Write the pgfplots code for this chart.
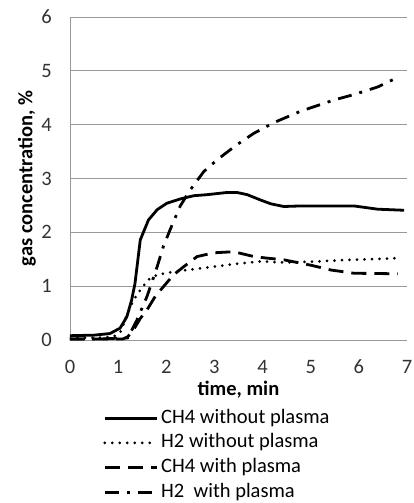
\documentclass[border=0pt]{standalone}
\usepackage{pgfplots}
\pgfplotsset{compat=1.18}
\usepackage{fontspec}
\setmainfont{Carlito}
\begin{document}
\begin{tikzpicture}
\useasboundingbox (-70pt,-163pt) rectangle (343pt,340pt);
\begin{axis}[
  at={(0,0)}, anchor=south west,
  scale only axis, width=337pt, height=323pt,
  xmin=0, xmax=7, ymin=0, ymax=6,
  xtick={0,...,7}, ytick={0,...,6},
  axis lines*=left,
  axis line style={black!40, line width=0.8pt},
  ymajorgrids, grid style={black!40, line width=0.8pt},
  major tick length=0pt,
  font=\fontsize{20.5}{24}\selectfont,
  /pgf/number format/assume math mode=true,
  ticklabel style={text=black!80, font=\fontsize{20.5}{24}\selectfont, inner sep=0pt},
  xticklabel style={anchor=base, yshift=-33.5pt},
  yticklabel style={anchor=east, xshift=-18pt},
  xlabel={\textbf{time, min}},
  ylabel={\textbf{gas concentration, \%}},
  xlabel style={at={(axis description cs:0.5,-0.155)}, anchor=center},
  ylabel style={at={(axis description cs:-0.128,0.5)}, anchor=center},
  legend cell align=left,
  legend style={draw=none, at={(0.098,-0.203)}, anchor=north west,
    inner xsep=0pt, inner ysep=0pt, row sep=0pt,
    nodes={inner ysep=2.35pt, text height=15pt, text depth=5pt, inner xsep=3pt},
    font=\fontsize{20.5}{24}\selectfont},
  legend image code/.code={\draw[#1] (0pt,0pt) -- (52pt,0pt);},
]
\addplot[black, line width=2.8pt, line join=round] coordinates {
(0,0.08)(0.5,0.09)(0.83,0.12)(1.04,0.22)(1.18,0.43)(1.28,0.74)(1.35,1.05)(1.46,1.86)(1.63,2.23)(1.81,2.42)(2.01,2.54)(2.29,2.62)(2.57,2.68)(2.85,2.70)(3.26,2.74)(3.47,2.74)(3.68,2.70)(3.96,2.60)(4.17,2.53)(4.44,2.48)(4.79,2.49)(5.49,2.49)(5.90,2.49)(6.39,2.43)(6.94,2.41)};
\addlegendentry{CH4 without plasma}
\addplot[black, line width=3pt, line cap=round, dash pattern=on 0pt off 7.5pt] coordinates {
(0,0.04)(0.5,0.04)(0.9,0.06)(1.05,0.15)(1.18,0.46)(1.32,0.74)(1.46,0.93)(1.63,1.12)(1.81,1.21)(2.15,1.27)(2.71,1.33)(3.40,1.41)(3.96,1.46)(4.44,1.44)(5.14,1.46)(5.83,1.49)(6.81,1.52)};
\addlegendentry{H2 without plasma}
\addplot[black, line width=2.8pt, dash pattern=on 15pt off 8pt] coordinates {
(0,0.02)(0.5,0.02)(1.1,0.02)(1.2,0.06)(1.32,0.19)(1.46,0.40)(1.60,0.56)(1.77,0.81)(1.94,0.99)(2.15,1.21)(2.36,1.36)(2.64,1.55)(2.99,1.62)(3.40,1.64)(3.82,1.55)(4.10,1.52)(4.44,1.49)(5.0,1.39)(5.42,1.30)(5.90,1.24)(6.81,1.23)};
\addlegendentry{CH4 with plasma}
\addplot[black, line width=2.8pt, dash pattern=on 14pt off 8pt on 3pt off 8pt] coordinates {
(0,0.02)(0.6,0.02)(1.2,0.04)(1.39,0.37)(1.60,0.81)(1.81,1.36)(1.94,1.74)(2.08,2.05)(2.29,2.49)(2.50,2.79)(2.78,3.13)(3.06,3.35)(3.47,3.63)(3.82,3.84)(4.24,4.04)(4.79,4.25)(5.49,4.46)(5.90,4.56)(6.39,4.70)(6.81,4.88)};
\addlegendentry{H2\ \ with plasma}
\end{axis}
\end{tikzpicture}
\end{document}
